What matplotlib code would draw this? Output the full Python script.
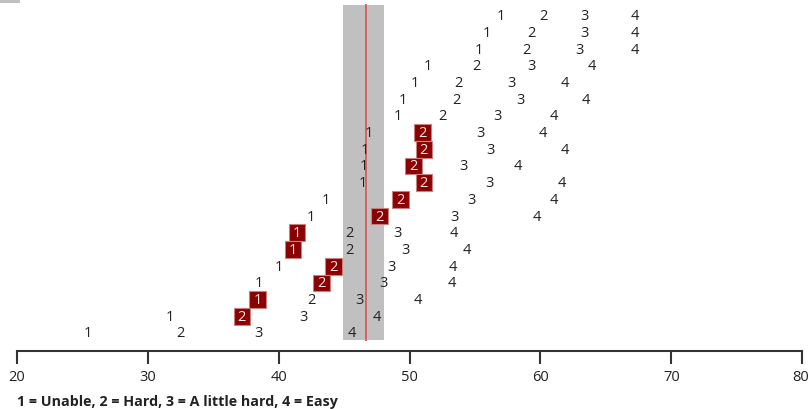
import matplotlib
matplotlib.use("Agg")
import matplotlib.pyplot as plt
import matplotlib.transforms as mtransforms
from matplotlib.patches import Rectangle

plt.rcParams['font.family'] = ['Open Sans', 'DejaVu Sans']

# x position of each threshold label, one entry per row (top to bottom)
pos_1 = [57.0, 55.9, 55.3, 51.4, 50.4, 49.5, 49.1, 46.9, 46.6, 46.5,
         46.4, 43.6, 42.5, 41.4, 41.1, 40.0, 38.5, 38.4, 31.7, 25.4]
pos_2 = [60.2, 59.3, 58.9, 55.1, 53.7, 53.6, 52.5, 51.0, 51.1, 50.3,
         51.1, 49.3, 47.7, 45.4, 45.4, 44.2, 43.3, 42.5, 37.2, 32.5]
pos_3 = [63.4, 63.4, 63.0, 59.3, 57.8, 58.5, 56.7, 55.4, 56.2, 54.1,
         56.1, 54.7, 53.4, 49.1, 49.7, 48.6, 48.0, 46.2, 41.9, 38.5]
pos_4 = [67.2, 67.2, 67.2, 63.9, 61.9, 63.5, 61.0, 60.2, 61.9, 58.3,
         61.6, 61.0, 59.7, 53.4, 54.4, 53.3, 53.2, 50.6, 47.5, 45.6]
# which category is highlighted in each row (0 = none)
boxed = [0, 0, 0, 0, 0, 0, 0, 2, 2, 2, 2, 2, 2, 1, 1, 2, 2, 1, 2, 0]

band_lo, band_hi = 44.95, 48.08
mean_x = 46.68
ticks = [20, 30, 40, 50, 60, 70, 80]
legend_text = "1 = Unable, 2 = Hard, 3 = A little hard, 4 = Easy"

fig = plt.figure(figsize=(8.09, 4.10), dpi=100)
ax = fig.add_axes([16.7 / 809, (410 - 351.7) / 410, 785.6 / 809, 351.7 / 410])

nrows = len(pos_1)
ax.set_xlim(20, 80)
ax.set_ylim(351.7 / 16.7, 0)

ax.axvspan(band_lo, band_hi, ymin=0.03, ymax=0.984, color='#c0c0c0', lw=0, zorder=0)
ax.axvline(mean_x, ymin=0.03, ymax=0.984, color='#d9605f', lw=1.4, zorder=1)

for r in range(nrows):
    y = r + 1
    for k, xs in enumerate([pos_1, pos_2, pos_3, pos_4], start=1):
        x = xs[r]
        if boxed[r] == k:
            ax.add_patch(Rectangle((x - 0.64, y - 0.5), 1.28, 1.0,
                                   facecolor='#8b0000', edgecolor='#c98080',
                                   lw=0.8, zorder=3))
            ax.text(x, y, str(k), ha='center', va='center', fontsize=10.5,
                    color='#f6e6e6', zorder=4)
        else:
            ax.text(x, y, str(k), ha='center', va='center', fontsize=10.5,
                    color='#222222', zorder=4)

for s in ['top', 'left', 'right']:
    ax.spines[s].set_visible(False)
ax.spines['bottom'].set_color('#333333')
ax.spines['bottom'].set_linewidth(1.5)
ax.set_yticks([])
ax.set_xticks(ticks)
ax.tick_params(axis='x', direction='out', length=9, width=1.5, color='#333333',
               labelsize=10.5, labelcolor='#222222', pad=4)

# last tick label sits right at the edge, nudge it in a little
last = ax.get_xticklabels()[-1]
last.set_transform(last.get_transform() +
                   mtransforms.ScaledTranslation(-2 / 100, 0, fig.dpi_scale_trans))

fig.text(17 / 809, 1 - 402 / 410, legend_text, ha='left', va='center',
         fontsize=10.3, fontweight='bold', color='#222222')
fig.patches.append(Rectangle((0, 1 - 4 / 410), 20 / 809, 4 / 410,
                             transform=fig.transFigure, facecolor='#c0c0c0',
                             lw=0, figure=fig))

fig.savefig("out.png", dpi=100)
